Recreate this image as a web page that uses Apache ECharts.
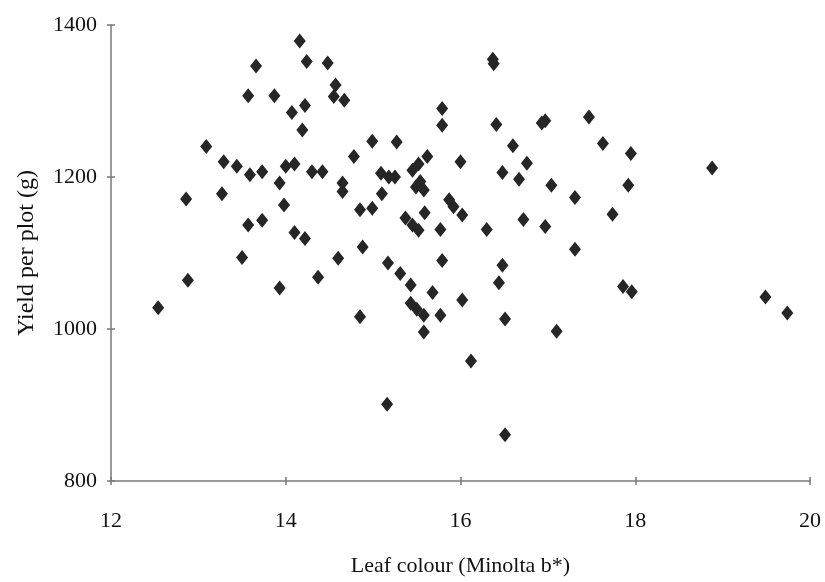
<!DOCTYPE html>
<html>
<head>
<meta charset="utf-8">
<script src="https://cdn.jsdelivr.net/npm/echarts@6/dist/echarts.min.js"></script>
<style>html,body{margin:0;padding:0;background:#fff}#c{width:825px;height:582px}</style>
</head>
<body>
<div id="c"></div>
<script>
const leafColour = [12.54,12.86,12.88,13.09,13.27,13.29,13.44,13.50,13.57,13.57,13.59,13.66,13.73,13.73,13.87,13.93,13.93,13.98,14.00,14.07,14.10,14.10,14.16,14.19,14.22,14.22,14.24,14.30,14.37,14.42,14.48,14.57,14.55,14.67,14.60,14.65,14.65,14.78,14.85,14.85,14.88,14.99,14.99,15.09,15.10,15.16,15.17,15.18,15.25,15.27,15.31,15.37,15.43,15.43,15.45,15.45,15.49,15.50,15.52,15.52,15.54,15.58,15.58,15.58,15.59,15.62,15.68,15.77,15.77,15.79,15.79,15.79,15.87,15.92,16.00,16.02,16.02,16.12,16.30,16.37,16.38,16.41,16.44,16.48,16.48,16.51,16.51,16.60,16.67,16.72,16.76,16.93,16.97,16.97,17.04,17.10,17.31,17.31,17.47,17.63,17.74,17.86,17.92,17.95,17.96,18.88,19.49,19.74];
const yieldPerPlot = [1028,1171,1064,1240,1178,1220,1214,1094,1307,1137,1203,1346,1207,1143,1307,1192,1054,1163,1214,1285,1217,1127,1379,1262,1294,1119,1352,1207,1068,1207,1350,1321,1306,1301,1093,1192,1181,1227,1157,1016,1108,1159,1247,1205,1178,901,1087,1200,1200,1246,1073,1146,1058,1034,1209,1137,1187,1026,1217,1130,1194,1183,1018,996,1153,1227,1048,1131,1018,1290,1268,1090,1170,1161,1220,1150,1038,958,1131,1355,1349,1269,1061,1206,1084,1013,861,1241,1197,1144,1218,1271,1274,1135,1189,997,1173,1105,1279,1244,1151,1056,1189,1231,1049,1212,1042,1021];
const xTicks = [12,14,16,18,20];
const yTicks = [800,1000,1200,1400];

const pts = leafColour.map((x,i)=>[x, yieldPerPlot[i]]);
const font = 'Liberation Serif';
const axisCol = '#7a7a7a';
const xMin = xTicks[0], xMax = xTicks[xTicks.length-1];
const yMin = yTicks[0], yMax = yTicks[yTicks.length-1];
const chart = echarts.init(document.getElementById('c'), null, {renderer:'canvas'});
chart.setOption({
  animation:false,
  backgroundColor:'#fff',
  grid:{left:111,right:15,top:25,bottom:101,containLabel:false},
  xAxis:[{
    type:'value', min:xMin, max:xMax, interval:2, position:'bottom',
    name:'Leaf colour (Minolta b*)', nameLocation:'middle', nameGap:74,
    nameTextStyle:{fontFamily:font,fontSize:22,color:'#111'},
    axisLine:{lineStyle:{color:axisCol,width:1.5}},
    axisTick:{show:true,length:4,lineStyle:{color:axisCol,width:1.5}},
    axisLabel:{fontFamily:font,fontSize:22,color:'#111',margin:29},
    splitLine:{show:false}
  },{
    type:'value', min:xMin, max:xMax, interval:2, position:'bottom', offset:0,
    axisLine:{show:false},
    axisTick:{show:true,inside:true,length:4,lineStyle:{color:axisCol,width:1.5}},
    axisLabel:{show:false}, splitLine:{show:false}
  }],
  yAxis:[{
    type:'value', min:yMin, max:yMax, interval:200, position:'left',
    name:'Yield per plot (g)', nameLocation:'middle', nameGap:72,
    nameTextStyle:{fontFamily:font,fontSize:24,color:'#111'},
    axisLine:{show:true,lineStyle:{color:axisCol,width:1.5}},
    axisTick:{show:true,length:4,lineStyle:{color:axisCol,width:1.5}},
    axisLabel:{fontFamily:font,fontSize:22,color:'#111',margin:14,formatter:v=>String(v)},
    splitLine:{show:false}
  },{
    type:'value', min:yMin, max:yMax, interval:200, position:'left', offset:0,
    axisLine:{show:false},
    axisTick:{show:true,inside:true,length:4,lineStyle:{color:axisCol,width:1.5}},
    axisLabel:{show:false}, splitLine:{show:false}
  }],
  series:[{
    type:'scatter',
    data:pts,
    symbol:'diamond',
    symbolSize:[12,15],
    itemStyle:{color:'#262626',opacity:1}
  }]
});
</script>
</body>
</html>
